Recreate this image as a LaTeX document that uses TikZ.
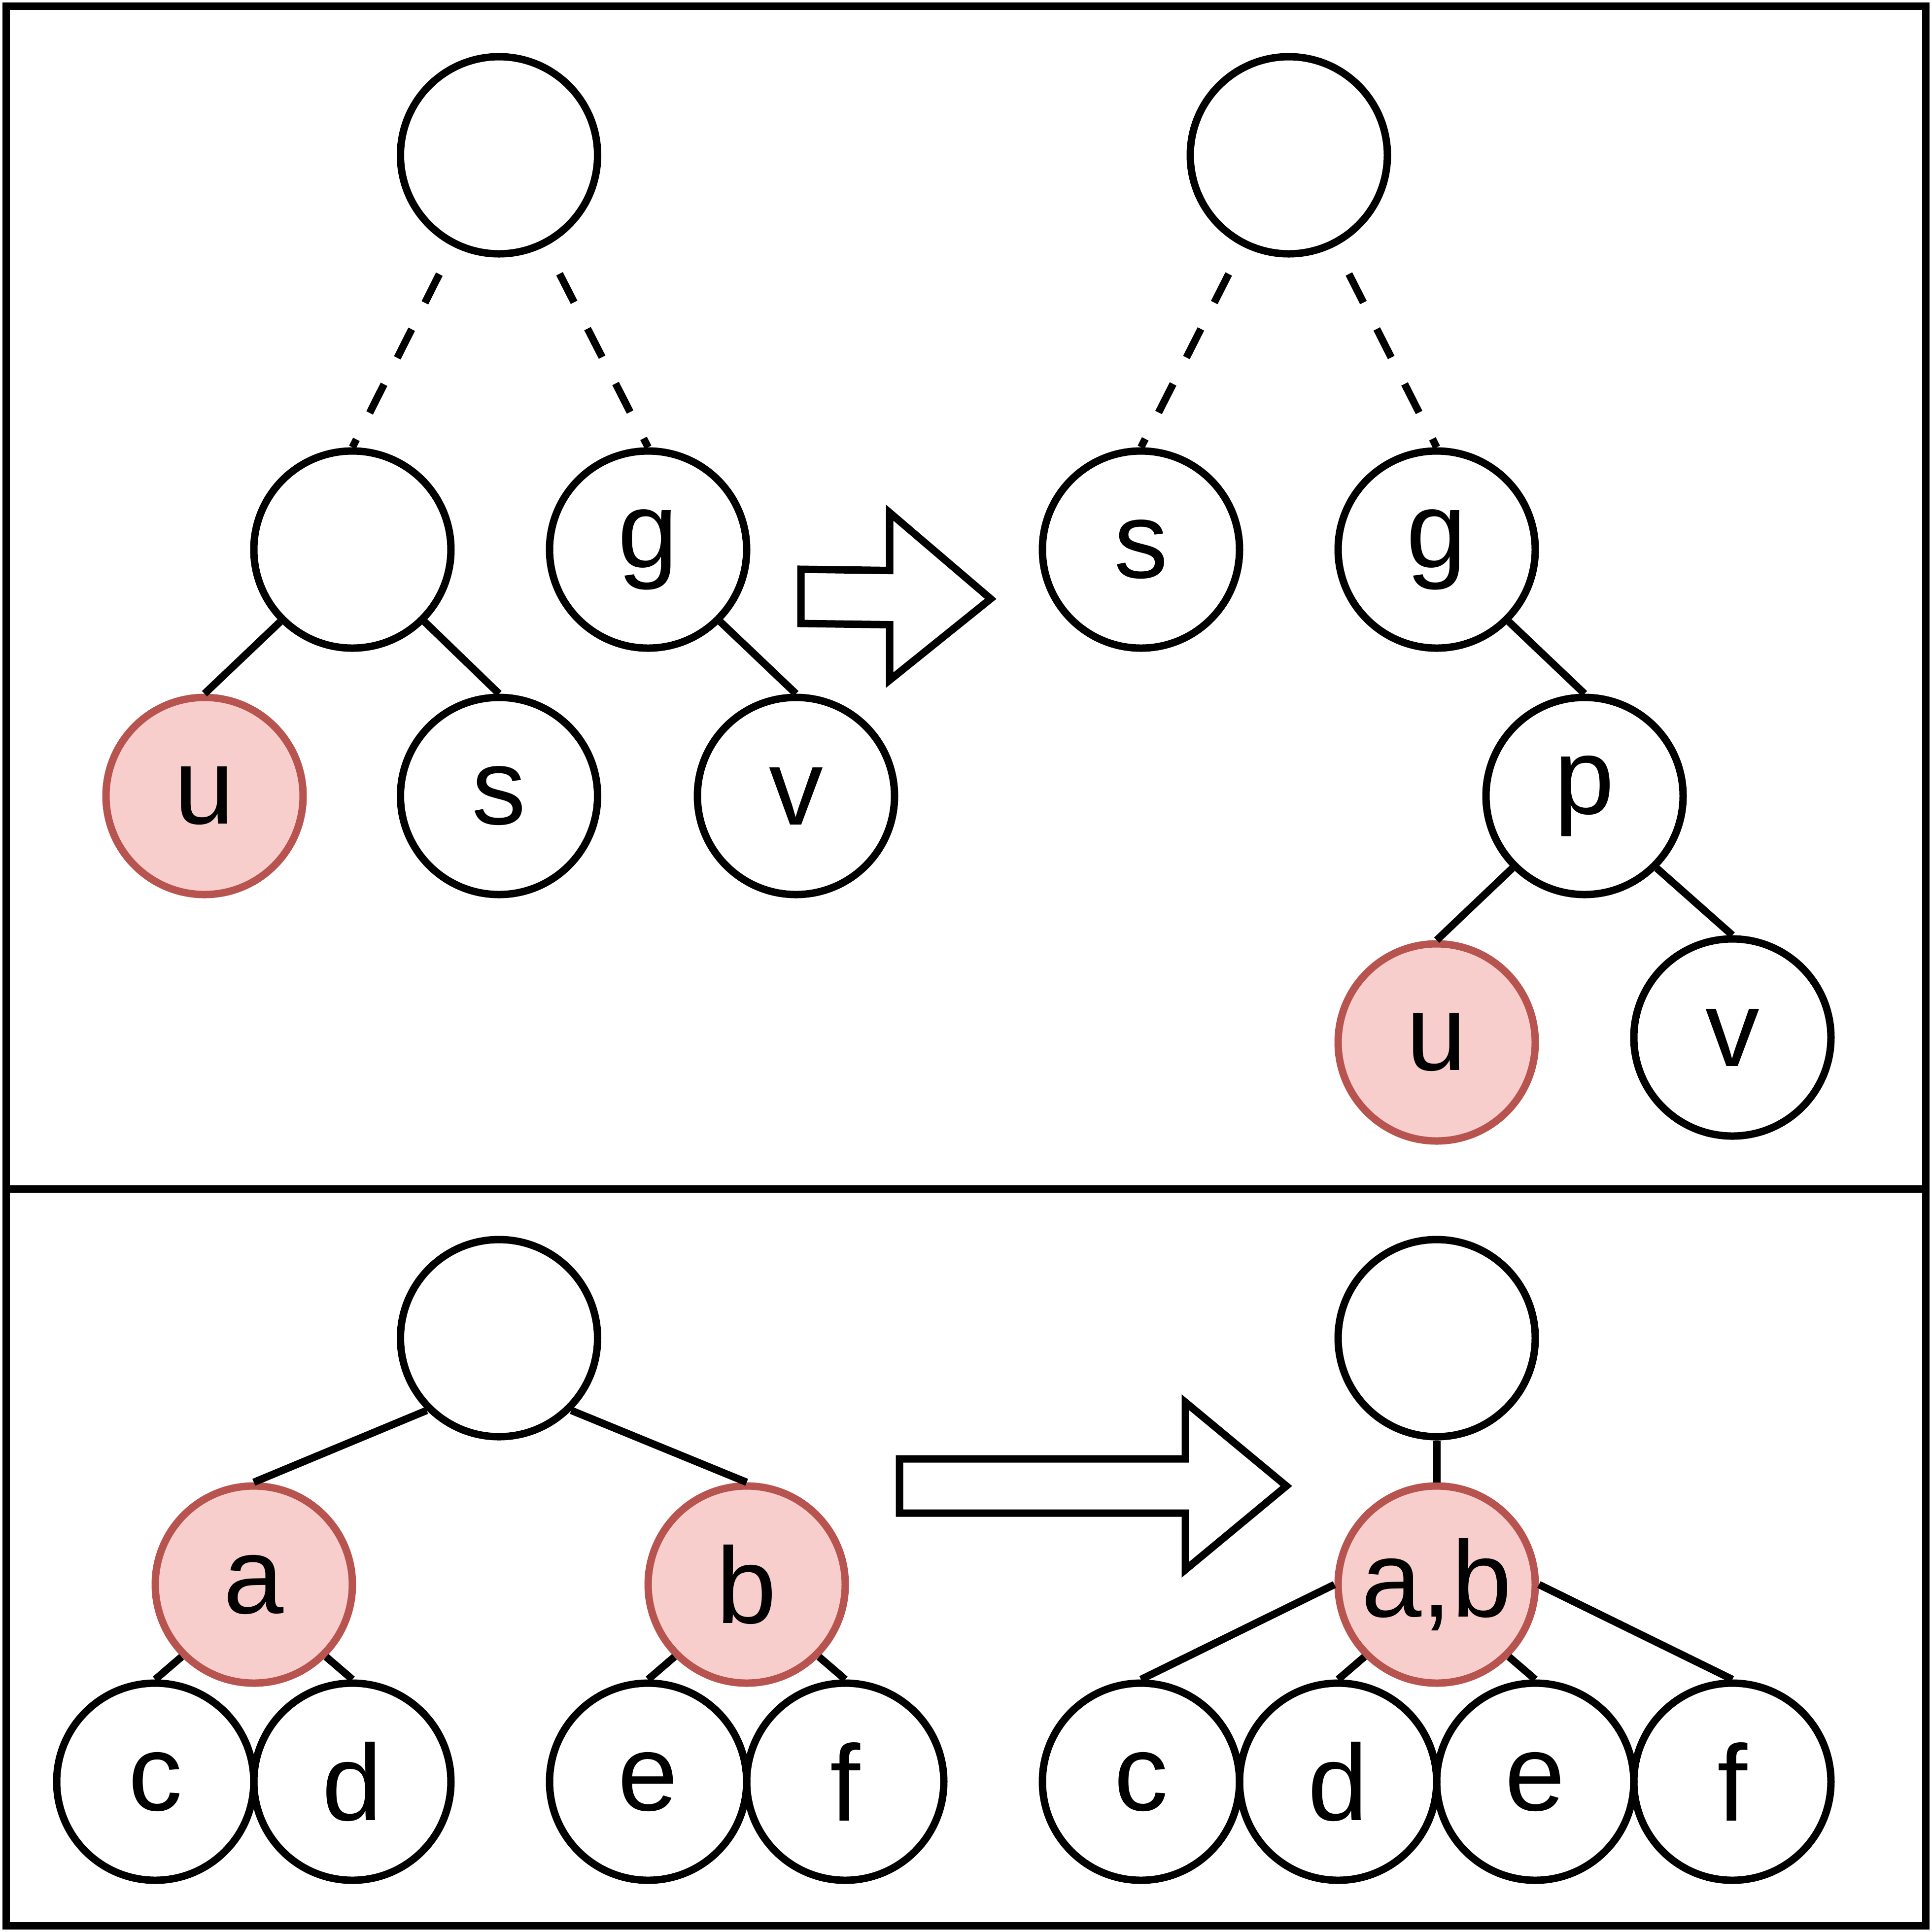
\documentclass[tikz,border=0pt]{standalone}
\usepackage{fontspec}
\setmainfont{Liberation Sans}
\usetikzlibrary{positioning,calc}
\definecolor{pinkFill}{HTML}{F8CECC}
\definecolor{pinkLine}{HTML}{B85450}
\tikzset{
  treeNode/.style={circle,draw,line width=0.6mm,minimum size=1.6cm,inner sep=0pt,
    font=\fontsize{25}{30}\selectfont},
  hotNode/.style={treeNode,fill=pinkFill,draw=pinkLine},
  edge/.style={line width=0.6mm},
  dashEdge/.style={edge,dash pattern=on 0.26cm off 0.24cm,shorten <=0.25cm},
  bigArrow/.style={line width=0.6mm,fill=white},
}
\begin{document}
\begin{tikzpicture}[x=0.1mm,y=-0.1mm]
\useasboundingbox (0,0) rectangle (1568,1568);

% ===== Frame =====
\draw[line width=0.6mm] (5,5) rectangle (1563,1563);
\draw[line width=0.6mm] (5,965) -- (1563,965);

% ===== Top left: before rotation =====
\node[treeNode] (r1) at (405,126) {};
\node[treeNode] (l1) at (286,446) {};
\node[treeNode] (g1) at (526,446) {g};
\node[hotNode]  (u1) at (166,646) {u};
\node[treeNode] (s1) at (405,646) {s};
\node[treeNode] (v1) at (646,646) {v};
\draw[dashEdge] (r1) -- (l1.north);
\draw[dashEdge] (r1) -- (g1.north);
\draw[edge] (l1.south west) -- (u1.north);
\draw[edge] (l1.south east) -- (s1.north);
\draw[edge] (g1.south east) -- (v1.north);

% ===== Arrow =====
\draw[bigArrow] (650,462) -- (722,463) -- (722,416) -- (804,486) -- (722,552) -- (722,507) -- (650,506) -- cycle;

% ===== Top right: after =====
\node[treeNode] (r2) at (1046,126) {};
\node[treeNode] (s2) at (926,446) {s};
\node[treeNode] (g2) at (1166,446) {g};
\node[treeNode] (p2) at (1286,646) {p};
\node[hotNode]  (u2) at (1166,846) {u};
\node[treeNode] (v2) at (1406,842) {v};
\draw[dashEdge] (r2) -- (s2.north);
\draw[dashEdge] (r2) -- (g2.north);
\draw[edge] (g2.south east) -- (p2.north);
\draw[edge] (p2.south west) -- (u2.north);
\draw[edge] (p2.south east) -- (v2.north);

% ===== Bottom left: before merge =====
\node[treeNode] (r3) at (405,1086) {};
\node[hotNode]  (a3) at (206,1286) {a};
\node[hotNode]  (b3) at (606,1286) {b};
\foreach \n/\x in {c/126,d/286,e/526,f/686} {
  \node[treeNode] (\n3) at (\x,1446) {\n};
}
\draw[edge] (r3.south west) -- (a3.north);
\draw[edge] (r3.south east) -- (b3.north);
\draw[edge] (a3.south west) -- (c3.north);
\draw[edge] (a3.south east) -- (d3.north);
\draw[edge] (b3.south west) -- (e3.north);
\draw[edge] (b3.south east) -- (f3.north);

% ===== Arrow =====
\draw[bigArrow] (730,1184) -- (962,1184) -- (962,1138) -- (1044,1206) -- (962,1274) -- (962,1228) -- (730,1228) -- cycle;

% ===== Bottom right: merged =====
\node[treeNode] (r4) at (1166,1086) {};
\node[hotNode]  (ab4) at (1166,1286) {a,b};
\foreach \n/\x in {c/926,d/1086,e/1246,f/1406} {
  \node[treeNode] (\n4) at (\x,1446) {\n};
}
\draw[edge] (r4.south) -- (ab4.north);
\draw[edge] (ab4.west) -- (c4.north);
\draw[edge] (ab4.south west) -- (d4.north);
\draw[edge] (ab4.south east) -- (e4.north);
\draw[edge] (ab4.east) -- (f4.north);

\end{tikzpicture}
\end{document}
